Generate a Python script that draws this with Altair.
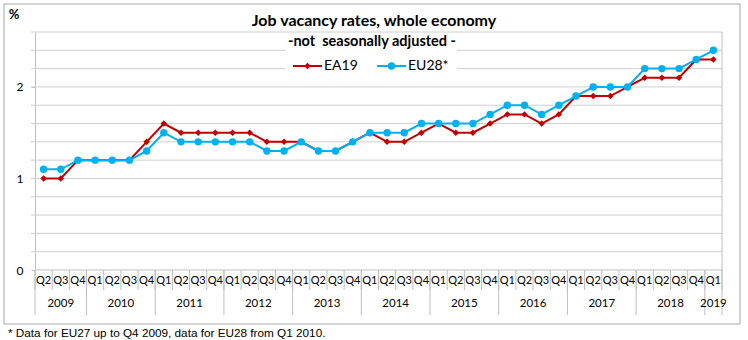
import altair as alt
import pandas as pd

# ---- data ----
quarters = ["Q2", "Q3", "Q4"] + ["Q1", "Q2", "Q3", "Q4"] * 9 + ["Q1"]
years = [2009] * 3 + [y for y in range(2010, 2019) for _ in range(4)] + [2019]
ea19 = [1.0, 1.0, 1.2,
        1.2, 1.2, 1.2, 1.4,
        1.6, 1.5, 1.5, 1.5,
        1.5, 1.5, 1.4, 1.4,
        1.4, 1.3, 1.3, 1.4,
        1.5, 1.4, 1.4, 1.5,
        1.6, 1.5, 1.5, 1.6,
        1.7, 1.7, 1.6, 1.7,
        1.9, 1.9, 1.9, 2.0,
        2.1, 2.1, 2.1, 2.3,
        2.3]
eu28 = [1.1, 1.1, 1.2,
        1.2, 1.2, 1.2, 1.3,
        1.5, 1.4, 1.4, 1.4,
        1.4, 1.4, 1.3, 1.3,
        1.4, 1.3, 1.3, 1.4,
        1.5, 1.5, 1.5, 1.6,
        1.6, 1.6, 1.6, 1.7,
        1.8, 1.8, 1.7, 1.8,
        1.9, 2.0, 2.0, 2.0,
        2.2, 2.2, 2.2, 2.3,
        2.4]
grid_values = [0.2, 0.4, 0.6, 0.8, 1, 1.2, 1.4, 1.6, 1.8, 2, 2.2, 2.4, 2.6]
label_values = [0, 1, 2]
title = "Job vacancy rates, whole economy"
subtitle = "-not\u00a0\u00a0seasonally adjusted -"
footnote = "* Data for EU27 up to Q4 2009, data for EU28 from Q1 2010."

RED = "#C00000"
BLUE = "#00B0F0"
GRID = "#CFCFCF"
AXIS = "#BFBFBF"
FONT = "Lato"

n = len(quarters)
df = pd.DataFrame({"idx": range(n), "q": quarters, "year": years,
                   "EA19": ea19, "EU28": eu28})

W, H = 687, 238
xscale = alt.Scale(domain=[-0.5, n - 0.5], nice=False, zero=False)
yscale = alt.Scale(domain=[0, 2.6], nice=False)
Y_AXIS = alt.Axis(values=label_values, title=None, grid=False,
                  domainColor=AXIS, tickColor=AXIS, tickSize=4,
                  labelPadding=8, labelFont=FONT, labelFontSize=12,
                  labelColor="#000000", format="d")

X = alt.X("idx:Q", scale=xscale, axis=None)

def Y(field):
    return alt.Y(field, scale=yscale, axis=Y_AXIS)

# gridlines
grid = alt.Chart(pd.DataFrame({"v": grid_values})).mark_rule(color=GRID, strokeWidth=1).encode(
    y=Y("v:Q"), x=alt.value(-4), x2=alt.value(W))
zero_line = alt.Chart(pd.DataFrame({"v": [0]})).mark_rule(color=AXIS, strokeWidth=1).encode(
    y=Y("v:Q"), x=alt.value(0), x2=alt.value(W))

# white box behind title/legend (covers gridlines like the Excel title box)
title_box = alt.Chart(pd.DataFrame({"a": [0]})).mark_rect(fill="white").encode(
    x=alt.value(250), x2=alt.value(422), y=alt.value(3), y2=alt.value(45))

ea_line = alt.Chart(df).mark_line(color=RED, strokeWidth=2).encode(x=X, y=Y("EA19:Q"))
ea_pts = alt.Chart(df).mark_point(shape="diamond", filled=True, color=RED, size=42, opacity=1).encode(
    x=X, y=Y("EA19:Q"))
eu_line = alt.Chart(df).mark_line(color=BLUE, strokeWidth=2).encode(x=X, y=Y("EU28:Q"))
eu_pts = alt.Chart(df).mark_point(shape="circle", filled=True, color=BLUE, size=55, opacity=1).encode(
    x=X, y=Y("EU28:Q"))

# category axis: separators and labels
qb = pd.DataFrame({"pos": [i - 0.5 for i in range(n)] + [n - 0.5]})
first_idx = df.groupby("year")["idx"].min()
yb = pd.DataFrame({"pos": [i - 0.5 for i in first_idx] + [n - 0.5]})
q_sep = alt.Chart(qb).mark_rule(color=AXIS).encode(
    x=alt.X("pos:Q", scale=xscale, axis=None), y=alt.value(H), y2=alt.value(H + 20))
y_sep = alt.Chart(yb).mark_rule(color=AXIS).encode(
    x=alt.X("pos:Q", scale=xscale, axis=None), y=alt.value(H), y2=alt.value(H + 45))
right_line = alt.Chart(pd.DataFrame({"pos": [n - 0.5]})).mark_rule(color=AXIS).encode(
    x=alt.X("pos:Q", scale=xscale, axis=None), y=alt.value(0), y2=alt.value(H))
q_lab = alt.Chart(df).mark_text(font=FONT, fontSize=11, color="#000000").encode(
    x=X, y=alt.value(H + 11), text="q:N")
ydf = df.groupby("year", as_index=False)["idx"].mean()
y_lab = alt.Chart(ydf).mark_text(font=FONT, fontSize=11.5, color="#000000").encode(
    x=alt.X("idx:Q", scale=xscale, axis=None), y=alt.value(H + 34), text="year:N")

# titles
def txt(s, x, y, size, bold=False, align="center", font=FONT):
    return alt.Chart(pd.DataFrame({"t": [s]})).mark_text(
        font=font, fontSize=size, fontWeight="bold" if bold else "normal",
        align=align, baseline="middle", color="#000000").encode(
        x=alt.value(x), y=alt.value(y), text="t:N")

t1 = txt(title, 339, -11, 16, bold=True)
t2 = txt(subtitle, 337, 10, 14.5, bold=True)
pct = txt("%", -21, -17, 13, bold=True)
foot = txt(footnote, -27, 301, 11.75, align="left", font="Liberation Sans")

# legend
def leg_item(x0, color, shape, size, label):
    d = pd.DataFrame({"a": [0]})
    ln = alt.Chart(d).mark_rule(color=color, strokeWidth=2).encode(
        x=alt.value(x0), x2=alt.value(x0 + 29), y=alt.value(34))
    pt = alt.Chart(d).mark_point(shape=shape, filled=True, color=color, size=size, opacity=1).encode(
        x=alt.value(x0 + 14.5), y=alt.value(34))
    tx = alt.Chart(pd.DataFrame({"t": [label]})).mark_text(
        font=FONT, fontSize=14, align="left", baseline="middle", color="#000000").encode(
        x=alt.value(x0 + 31), y=alt.value(34), text="t:N")
    return ln + pt + tx

leg1 = leg_item(258, RED, "diamond", 42, "EA19")
leg2 = leg_item(342, BLUE, "circle", 55, "EU28*")

frame = alt.Chart(pd.DataFrame({"a": [0]})).mark_rect(
    fill=None, stroke="#A6A6A6", strokeWidth=1).encode(
    x=alt.value(-31), x2=alt.value(705), y=alt.value(-28), y2=alt.value(292))

chart = alt.layer(
    grid, zero_line, title_box, right_line, q_sep, y_sep, q_lab, y_lab,
    ea_line, ea_pts, eu_line, eu_pts,
    t1, t2, pct, leg1, leg2, frame, foot
).properties(
    width=W, height=H,
    autosize=alt.AutoSizeParams(type="none"),
    padding={"left": 35, "top": 32, "right": 26, "bottom": 70},
    background="white"
).configure_view(stroke=None)

chart.save("out.html", embed_options={"renderer": "svg", "actions": False})
